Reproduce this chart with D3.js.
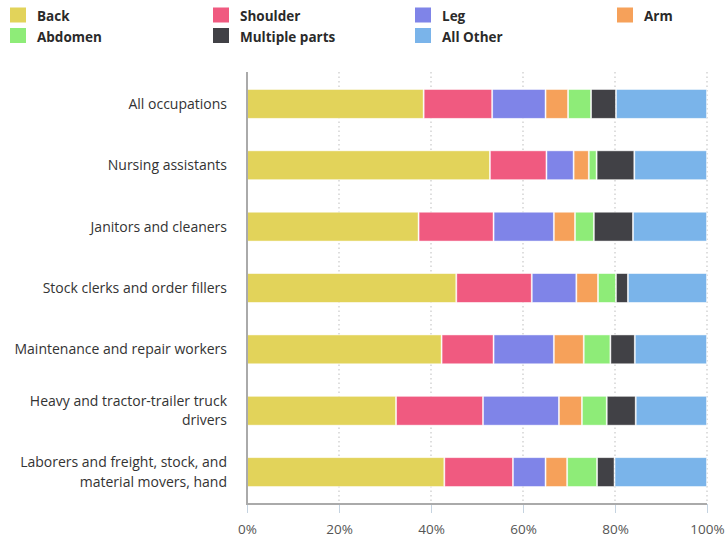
<!DOCTYPE html>
<html><head><meta charset="utf-8">
<script src="https://cdn.jsdelivr.net/npm/d3@7/dist/d3.min.js"></script>
<style>
body{margin:0;background:#fff;}
svg text{font-family:"Open Sans","Noto Sans",sans-serif;}
</style></head>
<body><svg id="chart" width="725" height="537"></svg>
<script>
const categories = [
  ["All occupations"],
  ["Nursing assistants"],
  ["Janitors and cleaners"],
  ["Stock clerks and order fillers"],
  ["Maintenance and repair workers"],
  ["Heavy and tractor-trailer truck", "drivers"],
  ["Laborers and freight, stock, and", "material movers, hand"]
];
const seriesNames = ["Back","Shoulder","Leg","Arm","Abdomen","Multiple parts","All Other"];
const seriesColors = ["#e2d35a","#f05a80","#7f84e8","#f6a15a","#8eec78","#414146","#7ab4ea"];
const back      = [38.4, 52.8, 37.3, 45.5, 42.3, 32.4, 42.9];
const shoulder  = [14.9, 12.3, 16.3, 16.4, 11.3, 18.9, 14.9];
const leg       = [11.6,  5.9, 13.1,  9.7, 13.1, 16.5,  7.1];
const arm       = [ 4.9,  3.3,  4.6,  4.7,  6.5,  5.0,  4.7];
const abdomen   = [ 5.0,  1.7,  4.1,  3.9,  5.8,  5.4,  6.5];
const multiple  = [ 5.4,  8.2,  8.5,  2.6,  5.3,  6.3,  3.8];
const allOther  = [19.8, 15.8, 16.1, 17.2, 15.7, 15.5, 20.1];
const tickValues = [0, 20, 40, 60, 80, 100];

const seriesValues = [back, shoulder, leg, arm, abdomen, multiple, allOther];
const rows = categories.map((c, i) => {
  const r = {key: i};
  seriesNames.forEach((s, j) => r[s] = seriesValues[j][i]);
  return r;
});
const stacked = d3.stack().keys(seriesNames).offset(d3.stackOffsetExpand)(rows);

const svg = d3.select("#chart");
const pL = 247, pR = 707, pT = 72, pB = 504;
const x = d3.scaleLinear().domain([0, 1]).range([pL, pR]);
const y = d3.scaleBand().domain(d3.range(categories.length)).range([pT, pB]).paddingInner(0.53).paddingOuter(0.285);

// grid
svg.append("g").selectAll("line").data(tickValues.slice(1)).join("line")
  .attr("x1", d => x(d/100)).attr("x2", d => x(d/100))
  .attr("y1", pT).attr("y2", pB)
  .attr("stroke", "#c8c8c8").attr("stroke-width", 1.2).attr("stroke-dasharray", "1.5,3");

// bars
svg.append("g").selectAll("g").data(stacked).join("g")
  .attr("fill", (d, i) => seriesColors[i])
  .selectAll("rect").data(d => d).join("rect")
  .attr("x", d => x(d[0]) + 0.5)
  .attr("width", d => Math.max(0, x(d[1]) - x(d[0]) - 1))
  .attr("y", (d, i) => y(i))
  .attr("height", y.bandwidth())
  .attr("stroke", "#fff").attr("stroke-opacity", 0.6).attr("stroke-width", 0.8);

// x axis
const xAxis = d3.axisBottom(x).tickValues(tickValues.map(v => v/100)).tickFormat(d => Math.round(d*100) + "%").tickSize(9).tickPadding(11);
const gx = svg.append("g").attr("transform", `translate(0,${pB})`).call(xAxis);
gx.select(".domain").remove();
gx.selectAll(".tick line").attr("stroke", "#c5d3e0");
gx.selectAll(".tick text").attr("fill", "#555").style("font-size", "13.5px");
svg.append("line").attr("x1", pL).attr("x2", pR).attr("y1", pB).attr("y2", pB)
  .attr("stroke", "#aaa").attr("stroke-width", 2);
// y axis line
svg.append("line").attr("x1", pL).attr("x2", pL).attr("y1", pT).attr("y2", pB + 1)
  .attr("stroke", "#aaa").attr("stroke-width", 2);

// category labels
const lab = svg.append("g").selectAll("text").data(categories).join("text")
  .attr("text-anchor", "end").attr("fill", "#333").style("font-size", "14px")
  .attr("transform", (d, i) => `translate(227,${y(i) + y.bandwidth()/2})`);
lab.selectAll("tspan").data(d => d).join("tspan")
  .attr("x", 0)
  .attr("y", (t, k, n) => (k - (n.length - 1)/2) * 19.5)
  .attr("dy", "0.35em")
  .text(t => t);

// legend
const legCols = [10, 213, 415, 617];
const legendG = svg.append("g").selectAll("g").data(seriesNames).join("g")
  .attr("transform", (d, i) => `translate(${legCols[i < 4 ? i : i - 4]},${i < 4 ? 7.5 : 28})`);
legendG.append("rect").attr("width", 16).attr("height", 15).attr("fill", (d, i) => seriesColors[i]);
legendG.append("text").attr("x", 27).attr("y", 9).attr("dy", "0.35em")
  .attr("fill", "#2a2a2a").style("font-size", "13.5px").style("font-weight", "700")
  .text(d => d);
</script></body></html>
